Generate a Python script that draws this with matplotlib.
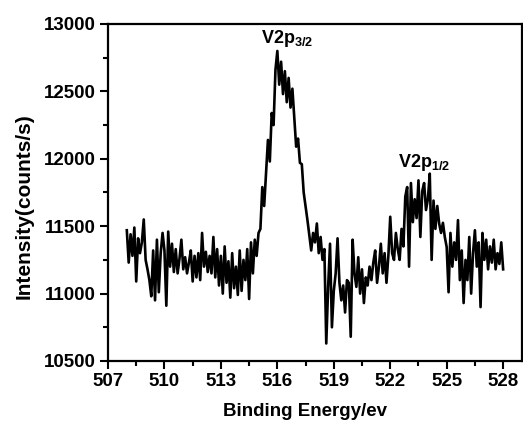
import numpy as np
import matplotlib
matplotlib.use("Agg")
import matplotlib.pyplot as plt
from matplotlib.ticker import MultipleLocator

# XPS V2p spectrum at 0.1 eV steps (508.0 - 528.0 eV)
energy = np.round(np.arange(508.0, 528.05, 0.1), 1)
intensity = [
    11470, 11230, 11440, 11280, 11490, 11090, 11410, 11300, 11380, 11550,  # 508
    11250, 11180, 11100, 10980, 11320, 10950, 11400, 11010, 11300, 11450,  # 509
    11320, 10910, 11460, 11200, 11370, 11160, 11330, 11150, 11260, 11400,  # 510
    11180, 11270, 11150, 11230, 11320, 11090, 11280, 11120, 11300, 11100,  # 511
    11450, 11200, 11310, 11160, 11280, 11150, 11420, 11120, 11330, 11060,  # 512
    11280, 11000, 11350, 11080, 11240, 10970, 11300, 11040, 11200, 10990,  # 513
    11320, 11020, 11250, 11100, 11330, 10960, 11380, 11150, 11400, 11280,  # 514
    11450, 11480, 11790, 11650, 11900, 12140, 11980, 12340, 12250, 12660,  # 515
    12800, 12550, 12720, 12480, 12650, 12420, 12600, 12380, 12520, 12310,  # 516
    12090, 12150, 11970, 11960, 11750, 11650, 11545, 11430, 11320, 11450,  # 517
    11380, 11520, 11300, 11420, 11250, 11330, 10630, 11050, 11370, 10750,  # 518
    11020, 11150, 11410, 11080, 10950, 11060, 10860, 11100, 11080, 10680,  # 519
    11400, 11150, 11050, 11270, 11000, 11180, 10930, 11120, 11060, 11200,  # 520
    11100, 11230, 11320, 11080, 11200, 11370, 11150, 11300, 11080, 11280,  # 521
    11570, 11300, 11250, 11450, 11330, 11250, 11480, 11350, 11720, 11790,  # 522
    11200, 11820, 11530, 11700, 11560, 11840, 11420, 11760, 11820, 11620,  # 523
    11700, 11890, 11250, 11690, 11480, 11650, 11520, 11450, 11525, 11420,  # 524
    11345, 11010, 11450, 11200, 11380, 11250, 11545, 11100, 11320, 10930,  # 525
    11250, 11100, 11420, 11000, 11300, 11470, 11200, 11380, 10900, 11450,  # 526
    11250, 11400, 11180, 11350, 11230, 11400, 11180, 11300, 11220, 11380,  # 527
    11180,                                                                 # 528
]

peak_labels = [r"V2p$_{\mathbf{3/2}}$", r"V2p$_{\mathbf{1/2}}$"]
peak_x = [516.5, 523.8]
peak_y = [12860, 11940]

plt.rcParams["font.family"] = ["Liberation Sans", "DejaVu Sans"]
plt.rcParams["font.weight"] = "bold"
plt.rcParams["mathtext.fontset"] = "custom"
plt.rcParams["mathtext.rm"] = "Liberation Sans:bold"
plt.rcParams["mathtext.bf"] = "Liberation Sans:bold"

fig = plt.figure(figsize=(5.23, 4.24), dpi=100)
ax = fig.add_axes([0.2065, 0.1486, 0.7915, 0.7948])

ax.plot(energy, intensity, color="black", lw=1.9)

for lab, x, y in zip(peak_labels, peak_x, peak_y):
    ax.text(x, y, lab, ha="center", va="baseline", fontsize=13, fontweight="bold")

ax.set_xlim(507, 529)
ax.set_ylim(10500, 13000)
ax.xaxis.set_major_locator(MultipleLocator(3))
ax.xaxis.set_minor_locator(MultipleLocator(1.5))
ax.yaxis.set_major_locator(MultipleLocator(500))
ax.yaxis.set_minor_locator(MultipleLocator(250))

ax.tick_params(which="both", direction="out", top=False, right=False, width=1.5)
ax.tick_params(which="major", length=6, labelsize=13.5, pad=3)
ax.tick_params(which="minor", length=3.5)
for sp in ax.spines.values():
    sp.set_linewidth(1.6)

ax.set_xlabel("Binding Energy/ev", fontsize=13.5, fontweight="bold")
ax.set_ylabel("Intensity(counts/s)", fontsize=15, fontweight="bold")
ax.xaxis.set_label_coords(0.476, -0.125)
ax.yaxis.set_label_coords(-0.18, 0.46)

fig.savefig("out.png", dpi=100, facecolor="white")
